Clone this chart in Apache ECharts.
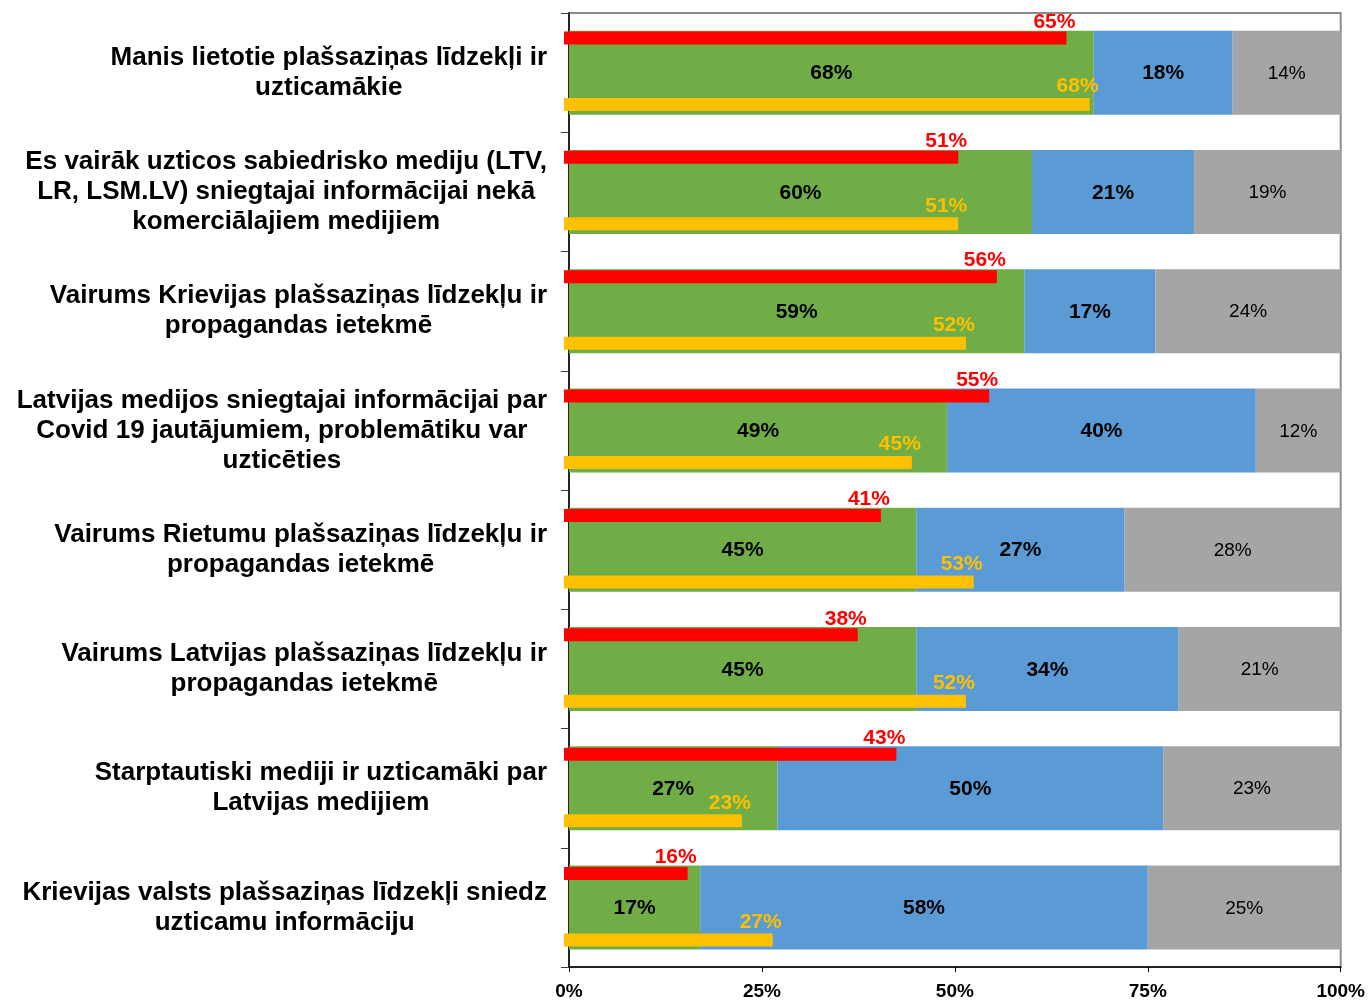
<!DOCTYPE html>
<html>
<head>
<meta charset="utf-8">
<script src="https://cdn.jsdelivr.net/npm/echarts@6/dist/echarts.min.js"></script>
<style>
  html, body { margin: 0; padding: 0; background: #ffffff; }
  #chart { width: 1368px; height: 1001px; }
</style>
</head>
<body>
<div id="chart"></div>
<script>
// Statements about media trust (top to bottom)
const categories = [
  'Manis lietotie plašsaziņas līdzekļi ir\nuzticamākie',
  'Es vairāk uzticos sabiedrisko mediju (LTV,\nLR, LSM.LV) sniegtajai informācijai nekā\nkomerciālajiem medijiem',
  'Vairums Krievijas plašsaziņas līdzekļu ir\npropagandas ietekmē',
  'Latvijas medijos sniegtajai informācijai par\nCovid 19 jautājumiem, problemātiku var\nuzticēties',
  'Vairums Rietumu plašsaziņas līdzekļu ir\npropagandas ietekmē',
  'Vairums Latvijas plašsaziņas līdzekļu ir\npropagandas ietekmē',
  'Starptautiski mediji ir uzticamāki par\nLatvijas medijiem',
  'Krievijas valsts plašsaziņas līdzekļi sniedz\nuzticamu informāciju'
];

// Stacked shares, %
const agree    = [68, 60, 59, 49, 45, 45, 27, 17];
const disagree = [18, 21, 17, 40, 27, 34, 50, 58];
const noAnswer = [14, 19, 24, 12, 28, 21, 23, 25];

// Comparison groups, %
const redGroup    = [65, 51, 56, 55, 41, 38, 43, 16];
const yellowGroup = [68, 51, 52, 45, 53, 52, 23, 27];

// X axis ticks
const tickValues = [0, 25, 50, 75, 100];

const FONT = '"Liberation Sans", Arial, sans-serif';

const chart = echarts.init(document.getElementById('chart'), null, { renderer: 'canvas' });

function stackSeries(name, data, color, bold, size) {
  return {
    name: name,
    type: 'bar',
    stack: 'total',
    xAxisIndex: 0,
    yAxisIndex: 0,
    barWidth: 84,
    data: data,
    itemStyle: { color: color },
    z: 2,
    label: {
      show: true,
      position: 'inside',
      offset: [0, 1],
      formatter: '{c}%',
      color: '#000000',
      fontFamily: FONT,
      fontWeight: bold ? 'bold' : 'normal',
      fontSize: size
    }
  };
}

function overlaySeries(name, data, color, dy) {
  return {
    name: name,
    type: 'bar',
    xAxisIndex: 1,
    yAxisIndex: 1,
    barWidth: 13,
    barGap: '412%',
    data: data,
    itemStyle: { color: color },
    z: 5,
    label: {
      show: true,
      position: ['100%', 0],
      align: 'center',
      verticalAlign: 'bottom',
      offset: [-12, dy],
      formatter: '{c}%',
      color: color,
      fontFamily: FONT,
      fontWeight: 'bold',
      fontSize: 21
    }
  };
}

const option = {
  animation: false,
  backgroundColor: '#ffffff',
  grid: [
    {
      left: 569, width: 773, top: 13, bottom: 33,
      show: true, borderColor: '#8a8a8a', borderWidth: 2, backgroundColor: 'transparent'
    },
    { left: 564, width: 773, top: 11.5, bottom: 34.5 }
  ],
  xAxis: [
    {
      type: 'value', gridIndex: 0, min: 0, max: 100, interval: 25,
      splitLine: { show: false },
      axisLine: { show: true, lineStyle: { color: '#000000', width: 1.5 } },
      axisTick: { show: true, length: 5, lineStyle: { color: '#000000' } },
      axisLabel: {
        margin: 15, formatter: v => tickValues.includes(v) ? v + '%' : '',
        color: '#000000', fontFamily: FONT, fontWeight: 'bold', fontSize: 19
      }
    },
    {
      type: 'value', gridIndex: 1, min: 0, max: 100, show: false
    }
  ],
  yAxis: [
    {
      type: 'category', gridIndex: 0, data: categories, inverse: true,
      axisLine: { show: true, lineStyle: { color: '#000000', width: 1.5 } },
      axisTick: { show: true, length: 8, lineStyle: { color: '#404040' } },
      axisLabel: {
        margin: 22,
        align: 'right',
        formatter: v => v.split('\n').map(l => '{c|' + l + '}').join('\n'),
        rich: {
          c: {
            align: 'center', color: '#000000', fontFamily: FONT,
            fontWeight: 'bold', fontSize: 26, lineHeight: 30
          }
        }
      }
    },
    {
      type: 'category', gridIndex: 1, data: categories, inverse: true, show: false
    }
  ],
  series: [
    stackSeries('Piekrīt', agree, '#70AD47', true, 21),
    stackSeries('Nepiekrīt', disagree, '#5B9BD5', true, 21),
    stackSeries('Grūti pateikt', noAnswer, '#A5A5A5', false, 19),
    overlaySeries('A', redGroup, '#FF0000', 1),
    overlaySeries('B', yellowGroup, '#FFC000', -1)
  ]
};

chart.setOption(option);
</script>
</body>
</html>
